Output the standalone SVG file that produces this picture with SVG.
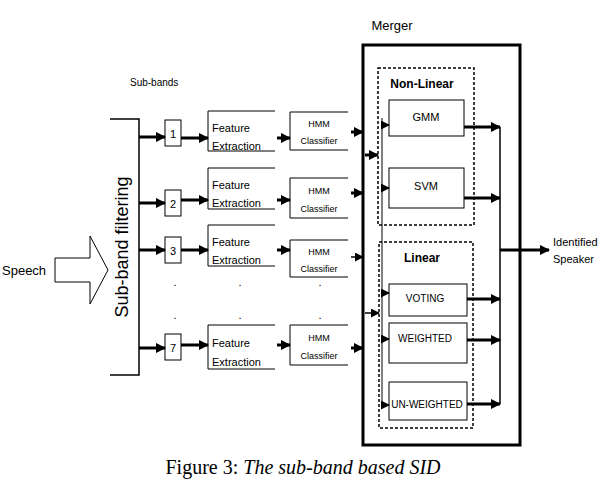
<svg xmlns="http://www.w3.org/2000/svg" width="606" height="482" viewBox="0 0 606 482">
<defs>
<marker id="ah" viewBox="0 0 10 10" refX="9" refY="5" markerWidth="3.5" markerHeight="3.5" orient="auto" markerUnits="strokeWidth"><path d="M0,0 L10,5 L0,10 z" fill="#000"/></marker>
<marker id="ahs" viewBox="0 0 10 10" refX="9" refY="5" markerWidth="6" markerHeight="6" orient="auto" markerUnits="strokeWidth"><path d="M0,0 L10,5 L0,10 z" fill="#000"/></marker>
</defs>
<style>
text{font-family:"Liberation Sans",Arial,sans-serif;font-size:11px;fill:#000}
.b{fill:#fff;stroke:#000;stroke-width:1}
.o{fill:none;stroke:#000;stroke-width:1}
.d{fill:none;stroke:#000;stroke-width:1.5;stroke-dasharray:3,2}
.t{stroke:#000;stroke-width:3;fill:none}
.a{stroke:#000;stroke-width:3;fill:none;marker-end:url(#ah)}
.a1{stroke:#000;stroke-width:1.5;fill:none;marker-end:url(#ahs)}
.m{text-anchor:middle}
</style>
<rect width="606" height="482" fill="#fff"/>
<g id="speech"><path class="o" d="M55,258 H90 V236 L108,270 L90,304 V282 H55 Z"/><text x="2" y="275" style="font-size:13px">Speech</text></g>
<g id="filter"><path class="o" d="M110,119 H139 V375 H110" style="stroke-width:1.5"/><text transform="translate(128,247) rotate(-90)" class="m" style="font-size:18px">Sub-band filtering</text></g>
<text x="130" y="86" style="font-size:10px">Sub-bands</text>
<g id="sb1"><rect class="b" x="165" y="120" width="16" height="26"/><text x="173" y="138" class="m">1</text></g>
<g id="sb2"><rect class="b" x="165" y="190" width="16" height="26"/><text x="173" y="208" class="m">2</text></g>
<g id="sb3"><rect class="b" x="165" y="237" width="16" height="26"/><text x="173" y="255" class="m">3</text></g>
<g id="sb7"><rect class="b" x="165" y="334" width="16" height="26"/><text x="173" y="352" class="m">7</text></g>
<g id="fe1"><path class="o" d="M275,111 H208 V151 H275"/><text x="212" y="132">Feature</text><text x="212" y="150">Extraction</text></g>
<g id="fe2"><path class="o" d="M275,168 H208 V209 H275"/><text x="212" y="189">Feature</text><text x="212" y="207">Extraction</text></g>
<g id="fe3"><path class="o" d="M275,225 H208 V266 H275"/><text x="212" y="246">Feature</text><text x="212" y="264">Extraction</text></g>
<g id="fe7"><path class="o" d="M275,325 H208 V369 H275"/><text x="212" y="347">Feature</text><text x="212" y="366">Extraction</text></g>
<g id="hmm1"><path class="o" d="M348,112 H290 V150 H348"/><text x="319" y="127" class="m" style="font-size:9px">HMM</text><text x="319" y="144" class="m" style="font-size:9px">Classifier</text></g>
<g id="hmm2"><path class="o" d="M348,178 H290 V218 H348"/><text x="319" y="194" class="m" style="font-size:9px">HMM</text><text x="319" y="212" class="m" style="font-size:9px">Classifier</text></g>
<g id="hmm3"><path class="o" d="M348,240 H290 V277 H348"/><text x="319" y="255" class="m" style="font-size:9px">HMM</text><text x="319" y="272" class="m" style="font-size:9px">Classifier</text></g>
<g id="hmm7"><path class="o" d="M348,325 H290 V365 H348"/><text x="319" y="341" class="m" style="font-size:9px">HMM</text><text x="319" y="359" class="m" style="font-size:9px">Classifier</text></g>
<g id="dots" style="font-size:16px"><text x="175" y="286" class="m">.</text><text x="240" y="286" class="m">.</text><text x="320" y="286" class="m">.</text><text x="175" y="319" class="m">.</text><text x="240" y="319" class="m">.</text><text x="320" y="319" class="m">.</text></g>
<g id="merger"><rect x="363" y="45" width="157" height="400" fill="none" stroke="#000" stroke-width="3"/><text x="392" y="30" class="m" style="font-size:13px">Merger</text></g>
<g id="nonlinear"><rect class="d" x="378" y="68" width="96" height="157"/><text x="422" y="88" class="m" style="font-weight:bold;font-size:12px">Non-Linear</text></g>
<g id="gmm"><rect class="b" x="389" y="100" width="75" height="36"/><text x="426" y="121" class="m">GMM</text></g>
<g id="svm"><rect class="b" x="389" y="168" width="75" height="40"/><text x="426" y="190" class="m">SVM</text></g>
<g id="linear"><rect class="d" x="379" y="242" width="94" height="186"/><text x="422" y="262" class="m" style="font-weight:bold;font-size:12px">Linear</text></g>
<g id="voting"><rect class="b" x="389" y="284" width="78" height="32"/><text x="425" y="302" class="m" style="font-size:10px">VOTING</text></g>
<g id="weighted"><rect class="b" x="389" y="323" width="78" height="40"/><text x="425" y="342" class="m" style="font-size:10px">WEIGHTED</text></g>
<g id="unweighted"><rect class="b" x="389" y="382" width="78" height="38"/><text x="427" y="408" class="m" style="font-size:10px">UN-WEIGHTED</text></g>
<text x="553" y="246" style="font-size:11px">Identified</text>
<text x="553" y="263" style="font-size:11px">Speaker</text>
<g id="connectors">
<path class="a" d="M139,137 H165"/><path class="a" d="M139,203 H165"/><path class="a" d="M139,250 H165"/><path class="a" d="M139,348 H165"/>
<path class="a" d="M181,138 H208"/><path class="a" d="M181,200 H208"/><path class="a" d="M181,250 H208"/><path class="a" d="M181,345 H208"/>
<path class="a" d="M277,138 H290"/><path class="a" d="M277,200 H290"/><path class="a" d="M277,250 H290"/><path class="a" d="M277,345 H290"/>
<path class="a" d="M351,132 H363"/><path class="a" d="M351,193 H363"/><path class="a1" d="M351,257 H363"/><path class="a" d="M351,348 H363"/>
<path class="a" d="M365,155 H378"/><path class="a1" d="M365,313 H379"/>
<path class="o" d="M382,118 V405"/>
<path class="a1" d="M382,125 H389"/><path class="a1" d="M382,188 H389"/><path class="a1" d="M382,293 H389"/><path class="a1" d="M382,339 H389"/><path class="a1" d="M382,405 H389"/>
<path class="a" d="M464,127 H500"/><path class="a" d="M464,198 H500"/><path class="a" d="M467,299 H500"/><path class="a" d="M467,340 H500"/><path class="a" d="M467,404 H500"/>
<path class="o" d="M500,127 V404" style="stroke-width:1.5"/>
<path class="a" d="M500,250 H549"/>
</g>
<text x="303" y="474" class="m" style="font-family:'Liberation Serif','Times New Roman',serif;font-size:20px">Figure 3: <tspan font-style="italic">The sub-band based SID</tspan></text>
</svg>
